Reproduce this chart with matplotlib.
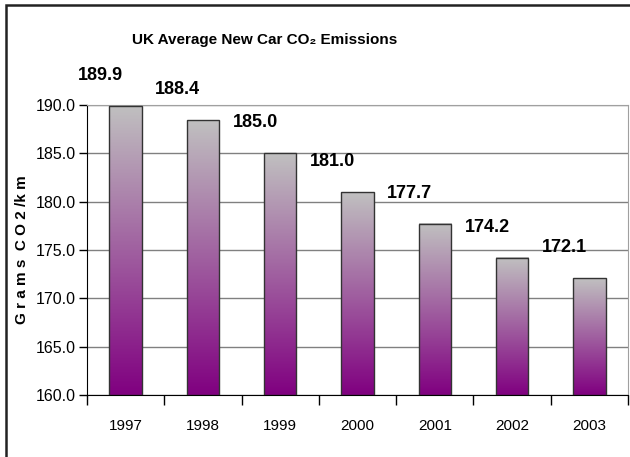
import numpy as np
import matplotlib.pyplot as plt
from matplotlib.colors import LinearSegmentedColormap
from matplotlib.patches import Rectangle

years = ['1997', '1998', '1999', '2000', '2001', '2002', '2003']
emissions = [189.9, 188.4, 185.0, 181.0, 177.7, 174.2, 172.1]
yticks = [160.0, 165.0, 170.0, 175.0, 180.0, 185.0, 190.0]

plt.rcParams['font.family'] = ['Liberation Sans', 'DejaVu Sans']

fig = plt.figure(figsize=(6.3, 4.57), dpi=100)
ax = fig.add_axes([87 / 630, 62 / 457, 541 / 630, 290 / 457])

# рамка вокруг всей диаграммы (обрезана справа и снизу)
fig.patches.append(Rectangle((6 / 630, -0.1), 1.2, 1 - 5 / 457 + 0.1,
                             transform=fig.transFigure, fill=False,
                             edgecolor='#222222', linewidth=1.8))

cmap = LinearSegmentedColormap.from_list('pg', ['#800080', '#c0c0c0'])
grad = np.linspace(0, 1, 256).reshape(-1, 1)

x = np.arange(len(years))
width = 0.42
bars = ax.bar(x, np.array(emissions) - 160, width, bottom=160,
              facecolor='none', edgecolor='#333333', linewidth=1.0, zorder=3)
for bar, val in zip(bars, emissions):
    x0 = bar.get_x()
    ax.imshow(grad, cmap=cmap, origin='lower', aspect='auto',
              extent=(x0, x0 + width, 160, val), zorder=2)
    ax.annotate(f'{val:.1f}', (x0 + width / 2, val),
                xytext=(-18, 22), textcoords='offset points',
                ha='center', va='center', fontsize=13, fontweight='bold')

ax.set_xlim(-0.5, len(years) - 0.5)
ax.set_ylim(160, 190)
ax.set_yticks(yticks)
ax.set_yticklabels([f'{t:.1f}' for t in yticks], fontsize=11.5)
ax.yaxis.grid(True, color='#808080', linewidth=1.0, zorder=0)
ax.set_axisbelow(True)

ax.set_xticks(x)
ax.set_xticklabels(years, fontsize=11)
ax.set_xticks(np.arange(-0.5, len(years)), minor=True)
ax.tick_params(axis='x', which='major', length=0, pad=17)
ax.tick_params(axis='x', which='minor', length=7, direction='out', width=1)
ax.tick_params(axis='y', length=6, direction='out', width=1, pad=2)

ax.spines['left'].set_color('black')
ax.spines['bottom'].set_color('black')
ax.spines['top'].set_color('#a0a0a0')
ax.spines['right'].set_color('#a0a0a0')

ax.set_ylabel('G r a m s  C O 2 /k m', fontsize=11, fontweight='bold')
ax.yaxis.set_label_coords(-0.107, 0.5)

fig.text(265 / 630, 1 - 40 / 457, 'UK Average New Car CO₂ Emissions',
         ha='center', va='center', fontsize=11, fontweight='bold')

fig.savefig('out.png', dpi=100)
